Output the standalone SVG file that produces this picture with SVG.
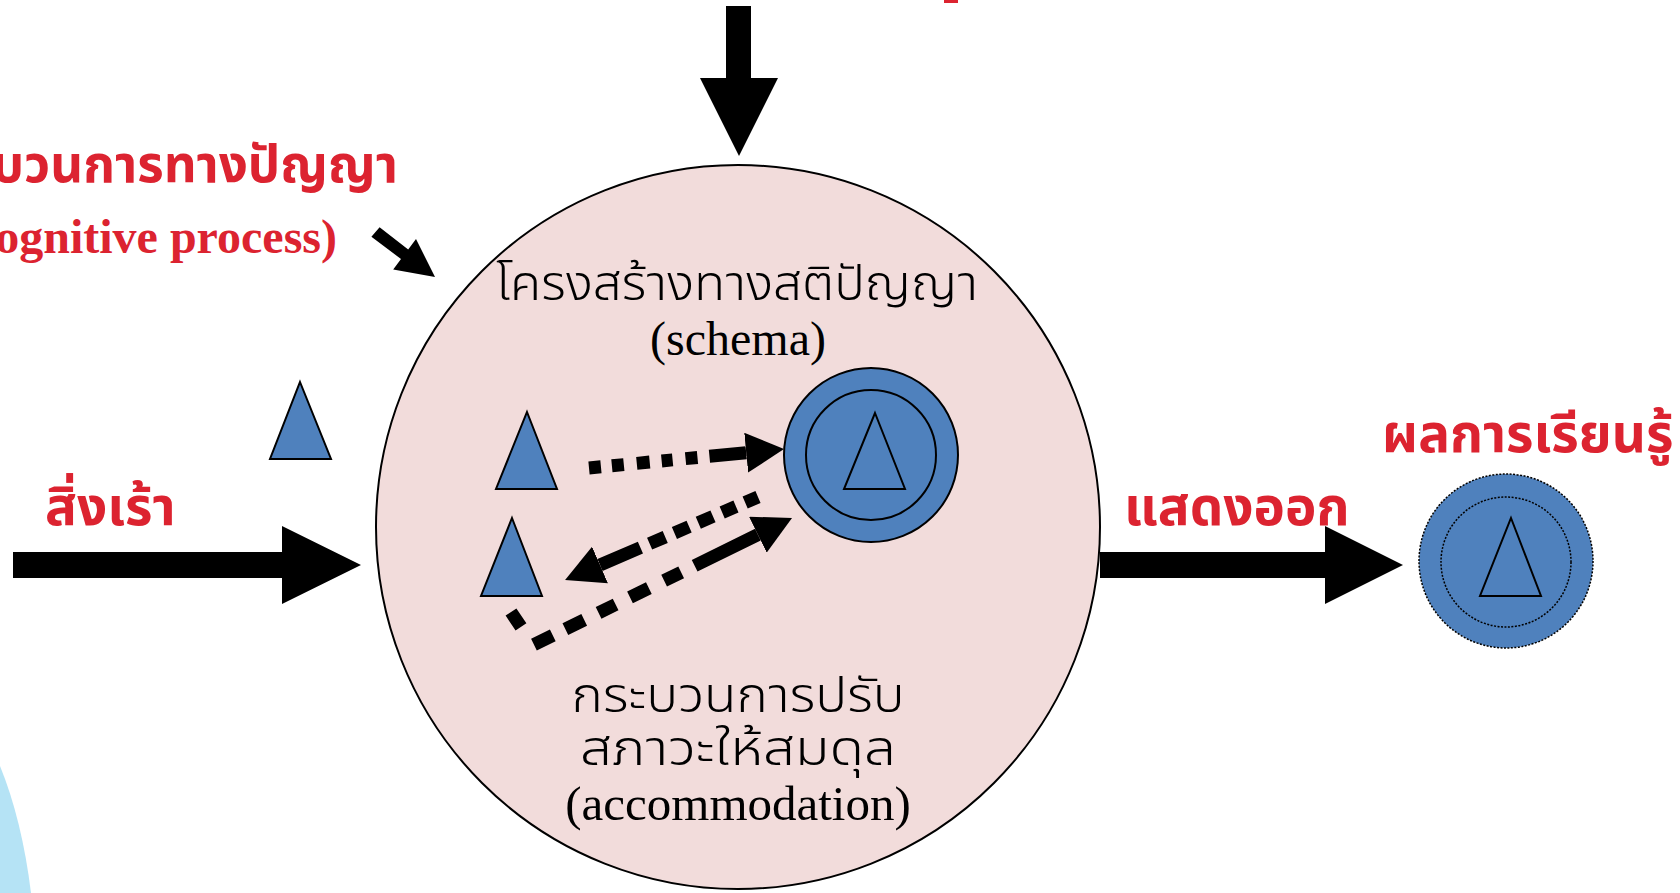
<svg xmlns="http://www.w3.org/2000/svg" width="1680" height="893" viewBox="0 0 1680 893">
<defs>
<style>
.bg{fill:#ffffff}
.main{fill:#f2dcdb;stroke:#000;stroke-width:2}
.blue{fill:#4f81bd;stroke:#000;stroke-width:2}
.bluedot{fill:#4f81bd;stroke:#000;stroke-width:1.5;stroke-dasharray:2 1.5}
.ring{fill:none;stroke:#000;stroke-width:2}
.ringdot{fill:none;stroke:#000;stroke-width:1.5;stroke-dasharray:2 1.5}
.tri{fill:#4f81bd;stroke:#000;stroke-width:2;stroke-linejoin:miter}
.block{fill:#000}
.dash{fill:none;stroke:#000;stroke-width:13;stroke-linecap:butt;stroke-linejoin:miter}
.rt{fill:#dc2330;font-family:"Noto Sans Thai","Noto Sans Thai UI","Noto Sans","DejaVu Sans",sans-serif;font-weight:bold}
.bt{fill:#000;font-family:"Noto Sans Thai","Noto Sans Thai UI","Noto Sans","DejaVu Sans",sans-serif;font-weight:300}
.en{fill:#000;font-family:"Liberation Serif","Times New Roman",serif}
.enr{fill:#dc2330;font-family:"Liberation Serif","Times New Roman",serif;font-weight:bold}
</style>
<marker id="head" markerUnits="userSpaceOnUse" viewBox="0 0 38 40" refX="0" refY="20" markerWidth="38" markerHeight="40" orient="auto">
<path d="M0,0 L38,20 L0,40 Z" fill="#000"/>
</marker>
</defs>
<rect class="bg" x="0" y="0" width="1680" height="893"/>
<path d="M0,766 Q22,820 31,893 L0,893 Z" fill="#b5e3f5"/>
<rect x="944" y="0" width="14" height="3" fill="#dc2330"/>

<g id="cognitive-structure">
<circle class="main" cx="738" cy="527" r="362"/>
<text class="bt" x="737" y="300" font-size="49" text-anchor="middle" textLength="482" lengthAdjust="spacingAndGlyphs">โครงสร้างทางสติปัญญา</text>
<text class="en" x="738" y="355" font-size="48" text-anchor="middle">(schema)</text>
<text class="bt" x="738" y="712" font-size="49" text-anchor="middle" textLength="333" lengthAdjust="spacingAndGlyphs">กระบวนการปรับ</text>
<text class="bt" x="738" y="765" font-size="49" text-anchor="middle" textLength="316" lengthAdjust="spacingAndGlyphs">สภาวะให้สมดุล</text>
<text class="en" x="738" y="820" font-size="49" text-anchor="middle">(accommodation)</text>
</g>

<g id="schema">
<circle class="blue" cx="871" cy="455" r="87"/>
<circle class="ring" cx="871" cy="455" r="65"/>
<polygon class="tri" points="875,413 905,489 844,489"/>
</g>

<g id="triangle-a"><polygon class="tri" points="527,412 557,489 496,489"/></g>
<g id="triangle-b"><polygon class="tri" points="512,518 542,596 481,596"/></g>
<g id="stimulus-triangle"><polygon class="tri" points="300,382 331,459 270,459"/></g>

<g id="outcome">
<circle class="bluedot" cx="1506" cy="561" r="87"/>
<circle class="ringdot" cx="1506" cy="562" r="65"/>
<polygon class="tri" points="1511,518 1541,596 1480,596"/>
</g>

<g id="labels">
<text class="rt" x="398" y="182" font-size="51" text-anchor="end">กระบวนการทางปัญญา</text>
<text class="enr" x="337" y="253" font-size="48" text-anchor="end">(cognitive process)</text>
<text class="rt" x="45" y="525" font-size="53">สิ่งเร้า</text>
<text class="rt" x="1124" y="525" font-size="53">แสดงออก</text>
<text class="rt" x="1382" y="452" font-size="53">ผลการเรียนรู้</text>
</g>

<g id="connectors">
<polygon class="block" points="726,6 751,6 751,78 778,78 739,156 700,78 726,78"/>
<polygon class="block" points="13,552 282,552 282,526 361,565 282,604 282,578 13,578"/>
<polygon class="block" points="1100,552 1325,552 1325,526 1403,565 1325,604 1325,578 1100,578"/>
<polygon class="block" points="379.6,227.2 408.2,249.4 416,239 435,277 393.2,269.4 401,259 371.4,236.8"/>
<path class="dash" d="M589,468 L746.2,452.7" stroke-dasharray="12 11 12 13 13 12 11 13 12 12 60" marker-end="url(#head)"/>
<path class="dash" d="M758,497 L600,565" stroke-dasharray="14 10 15 10 16 10 16 10 17 10 80" marker-end="url(#head)"/>
<path class="dash" d="M511,612 L533,645 L757.9,534.7" stroke-width="14" stroke-dasharray="18 22.7 21 14 21 16 19 16 21 17 19 15 120" marker-end="url(#head)"/>
</g>
</svg>
